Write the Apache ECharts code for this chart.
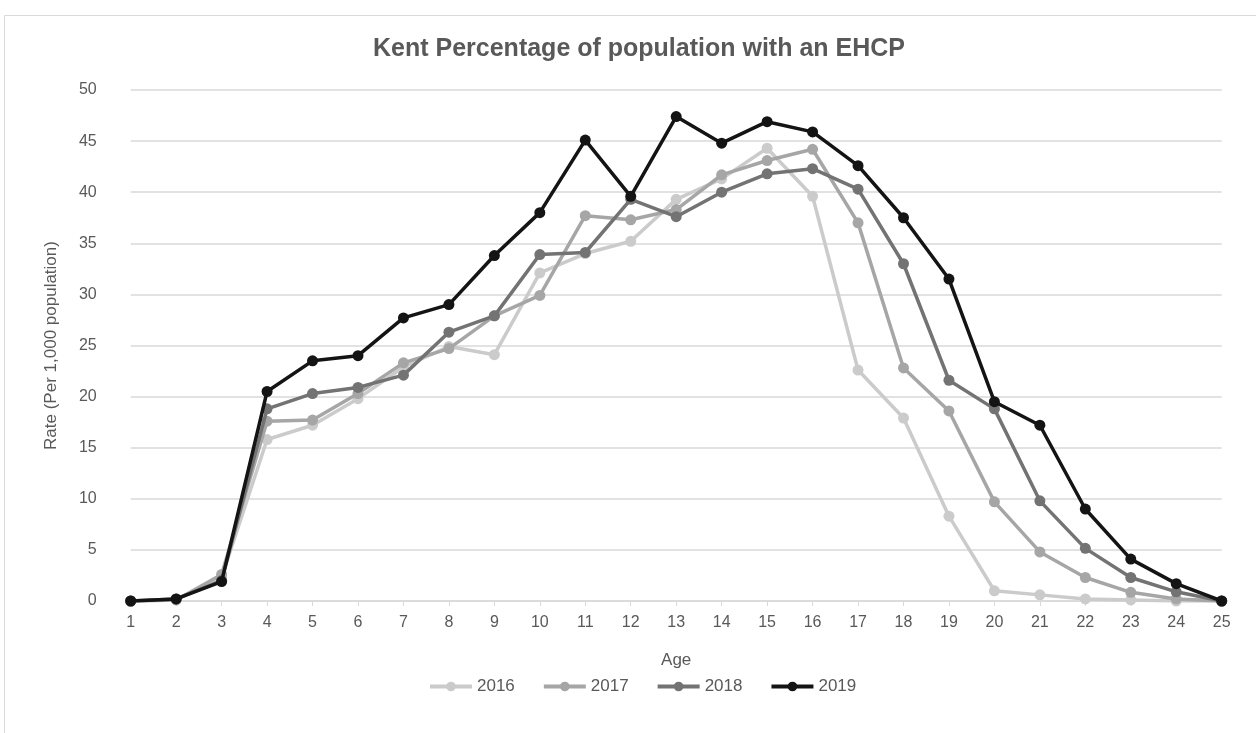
<!DOCTYPE html>
<html>
<head>
<meta charset="utf-8">
<script src="https://cdn.jsdelivr.net/npm/echarts@6/dist/echarts.min.js"></script>
<style>
html,body{margin:0;padding:0;background:#fff;}
#chart{width:1256px;height:733px;}
</style>
</head>
<body>
<div id="chart"></div>
<script>
const ages = ['1','2','3','4','5','6','7','8','9','10','11','12','13','14','15','16','17','18','19','20','21','22','23','24','25'];
const yTicks = [0,5,10,15,20,25,30,35,40,45,50];
const s2016 = [0,0.1,2.3,15.8,17.2,19.8,22.9,24.9,24.1,32.1,34.0,35.2,39.3,41.3,44.3,39.6,22.6,17.9,8.3,1.0,0.6,0.2,0.1,0.0,0];
const s2017 = [0,0.1,2.6,17.6,17.7,20.3,23.3,24.7,27.9,29.9,37.7,37.3,38.3,41.7,43.1,44.2,37.0,22.8,18.6,9.7,4.8,2.3,0.85,0.2,0];
const s2018 = [0,0.2,2.0,18.8,20.3,20.9,22.1,26.3,27.9,33.9,34.1,39.3,37.6,40.0,41.8,42.3,40.3,33.0,21.6,18.8,9.8,5.15,2.3,0.9,0];
const s2019 = [0,0.2,1.9,20.5,23.5,24.0,27.7,29.0,33.8,38.0,45.1,39.6,47.4,44.8,46.9,45.9,42.6,37.5,31.5,19.5,17.2,9.0,4.1,1.7,0];
const seriesNames = ['2016','2017','2018','2019'];
const seriesColors = ['#cbcbcb','#a6a6a6','#737373','#141414'];
const allData = [s2016,s2017,s2018,s2019];

const chart = echarts.init(document.getElementById('chart'), null, {renderer:'canvas'});
const txt = '#595959';
const font = 'Liberation Sans, Arial, sans-serif';
chart.setOption({
  animation:false,
  backgroundColor:'#fff',
  graphic:[{type:'rect',shape:{x:4.5,y:15.5,width:1300,height:800},style:{fill:'none',stroke:'#d9d9d9',lineWidth:1}}],
  title:{text:'Kent Percentage of population with an EHCP',left:'634',textAlign:'center',top:32,
    textStyle:{fontFamily:font,fontSize:25,fontWeight:'bold',color:txt}},
  legend:{data:seriesNames,left:428,top:678,padding:0,itemWidth:42,itemHeight:12,itemGap:27,
    lineStyle:{width:4},
    textStyle:{fontFamily:font,fontSize:17,color:txt}},
  grid:{left:130.7,right:34.3,top:90,bottom:132,containLabel:false},
  xAxis:{type:'category',data:ages,boundaryGap:false,name:'Age',nameLocation:'middle',nameGap:51,
    nameTextStyle:{fontFamily:font,fontSize:17,color:txt},
    axisLine:{show:true,lineStyle:{color:'#d9d9d9',width:1.5}},
    axisTick:{show:true,alignWithLabel:true,length:5,lineStyle:{color:'#d9d9d9'}},
    axisLabel:{fontFamily:font,fontSize:16,color:txt,margin:14},
    splitLine:{show:false}},
  yAxis:{type:'value',min:yTicks[0],max:yTicks[yTicks.length-1],interval:5,
    name:'Rate (Per 1,000 population)',nameLocation:'middle',nameGap:71,
    nameTextStyle:{fontFamily:font,fontSize:17,color:txt},
    axisLine:{show:false},axisTick:{show:false},
    axisLabel:{fontFamily:font,fontSize:16,color:txt,margin:34},
    splitLine:{lineStyle:{color:'#d9d9d9',width:1.5}}},
  series: seriesNames.map((n,i)=>({
    name:n,type:'line',data:allData[i],symbol:'circle',symbolSize:11,
    lineStyle:{width:3.5,color:seriesColors[i]},itemStyle:{color:seriesColors[i]},
    z:2+i
  }))
});
</script>
</body>
</html>
